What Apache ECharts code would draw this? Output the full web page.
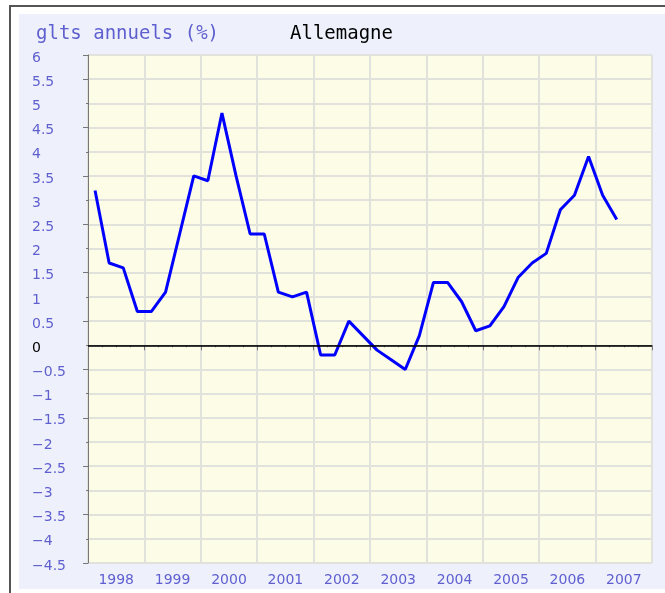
<!DOCTYPE html>
<html>
<head>
<meta charset="utf-8">
<script src="https://cdn.jsdelivr.net/npm/echarts@6/dist/echarts.min.js"></script>
<style>
  html, body { margin: 0; padding: 0; background: #fff; }
  #frame {
    position: absolute; left: 9px; top: 5px; width: 670px; height: 600px;
    border-top: 2px solid #555; border-left: 2px solid #555; box-sizing: border-box;
  }
  #chart { position: absolute; left: 19px; top: 14px; width: 646px; height: 575px; }
</style>
</head>
<body>
<div id="frame"></div>
<div id="chart"></div>
<script>
// trimestres 1998T1 .. 2007T2 (point placé au milieu du trimestre)
const years = ['1998', '1999', '2000', '2001', '2002', '2003', '2004', '2005', '2006', '2007']
const growth = [
  3.2, 1.7, 1.6, 0.7,
  0.7, 1.1, 2.3, 3.5,
  3.4, 4.8, 3.5, 2.3,
  2.3, 1.1, 1.0, 1.1,
  -0.2, -0.2, 0.5, 0.2,
  -0.1, -0.3, -0.5, 0.2,
  1.3, 1.3, 0.9, 0.3,
  0.4, 0.8, 1.4, 1.7,
  1.9, 2.8, 3.1, 3.9,
  3.1, 2.6
]
const firstYear = 1998

const seriesData = growth.map((v, i) => [firstYear + 0.125 + i * 0.25, v])

const blue = '#5f5fd0'
const chart = echarts.init(document.getElementById('chart'))

const option = {
  backgroundColor: '#eef1fb',
  animation: false,
  title: [
    {
      text: 'glts annuels (%)',
      left: 12, top: 6,
      textStyle: { fontFamily: 'DejaVu Sans Mono', fontSize: 19, fontWeight: 'normal', color: blue }
    },
    {
      text: 'Allemagne',
      left: 266, top: 6,
      textStyle: { fontFamily: 'DejaVu Sans Mono', fontSize: 19, fontWeight: 'normal', color: '#000' }
    }
  ],
  grid: {
    left: 69, top: 41, right: 13, bottom: 26,
    show: true,
    backgroundColor: '#fdfce6',
    borderColor: '#888',
    borderWidth: 1
  },
  xAxis: [
    {
      type: 'value',
      min: 1998, max: 2008, interval: 1,
      axisLine: { lineStyle: { color: '#777', width: 1 } },
      axisTick: { show: true, length: 5, lineStyle: { color: '#777' } },
      minorTick: { show: true, splitNumber: 4, length: 2, lineStyle: { color: '#777' } },
      axisLabel: { show: false },
      splitLine: { show: true, lineStyle: { color: '#e2e2dc', width: 2 } }
    },
    {
      type: 'category',
      data: years,
      position: 'bottom',
      boundaryGap: true,
      axisLine: { show: false },
      axisTick: { show: false },
      splitLine: { show: false },
      axisLabel: { color: blue, fontFamily: 'DejaVu Sans', fontSize: 14, margin: 10 }
    }
  ],
  yAxis: [
    {
      type: 'value',
      min: -4.5, max: 6, interval: 0.5,
      axisLine: { show: true, lineStyle: { color: '#777' } },
      axisTick: { show: true, length: 2, lineStyle: { color: '#777' } },
      splitLine: { show: true, lineStyle: { color: '#e2e2dc', width: 2 } },
      axisLabel: {
        align: 'left',
        verticalAlign: 'top',
        lineHeight: 6,
        margin: 56,
        fontFamily: 'DejaVu Sans',
        fontSize: 14,
        color: (v) => (Number(v) === 0 ? '#000' : blue),
        formatter: (v) => String(v).replace('-', '\u2212')
      }
    },
    {
      type: 'value',
      position: 'left',
      min: -4.5, max: 6, interval: 1,
      axisLine: { show: false },
      axisTick: { show: true, length: 5, lineStyle: { color: '#777' } },
      splitLine: { show: false },
      axisLabel: { show: false }
    }
  ],
  series: [
    {
      type: 'line',
      xAxisIndex: 0,
      yAxisIndex: 0,
      data: seriesData,
      symbol: 'none',
      lineStyle: { color: '#0000ff', width: 3 },
      markLine: {
        silent: true,
        symbol: 'none',
        label: { show: false },
        lineStyle: { color: '#000', width: 1.5, type: 'solid' },
        data: [{ yAxis: 0 }]
      }
    }
  ]
}

chart.setOption(option)
</script>
</body>
</html>
